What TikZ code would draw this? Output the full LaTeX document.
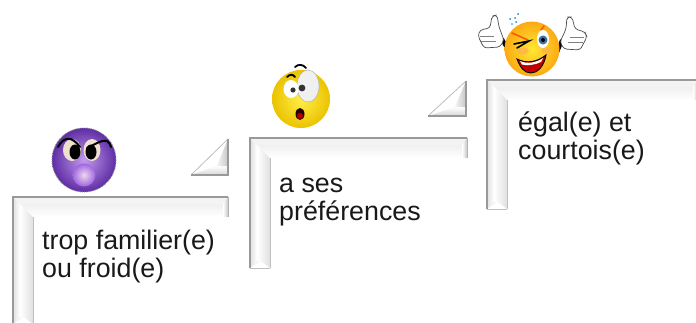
\documentclass[tikz,border=0pt]{standalone}
\usepackage{fontspec}
\setmainfont{Liberation Sans}
\usetikzlibrary{calc}
\tikzset{
  x=1pt,y=-1pt,
  label text/.style={anchor=north west,align=left,inner sep=0pt,font=\fontsize{26.8}{28}\selectfont,text=black!90},
  rim/.style={draw=black!40,line width=1.3pt},
  softrim/.style={draw=black!25,line width=1pt},
  ink/.style={draw=black,line width=1.2pt,line cap=round},
}
\definecolor{topgray}{gray}{0.88}
\definecolor{faceviolet}{RGB}{160,100,225}
\definecolor{facevioletdark}{RGB}{95,45,165}
\definecolor{faceyellow}{RGB}{255,235,40}
\definecolor{faceyellowdark}{RGB}{235,195,0}
\definecolor{winkyellow}{RGB}{255,232,50}
\definecolor{winkorange}{RGB}{252,170,20}
% left, top, right, bottom of a bevelled bracket
\newcommand{\bevelframe}[4]{%
  \pgfmathsetmacro{\il}{#1+20}\pgfmathsetmacro{\it}{#2+20}
  \pgfmathsetmacro{\pl}{#1+7}\pgfmathsetmacro{\pt}{#2+7}
  \pgfmathsetmacro{\pr}{#3-5}\pgfmathsetmacro{\pb}{#4-7}
  \pgfmathsetmacro{\mx}{#1+10}
  % top bar
  \shade[top color=topgray,bottom color=white] (#1,#2) -- (#3,#2) -- (#3,\it) -- (\il,\it) -- cycle;
  \fill[white!60!topgray] (#1,#2) -- (\pl,\pt) -- (\pr,\pt) -- (#3,#2) -- cycle;
  \shade[top color=white!50!topgray,bottom color=white] (\pl,\pt) -- (\pr,\pt) -- (\pr,\it) -- (\il,\it) -- cycle;
  \shade[left color=white,right color=black!22] (\pr,\pt) -- (#3,#2) -- (#3,\it) -- (\pr,\it) -- cycle;
  % left bar
  \shade[left color=topgray,right color=white] (#1,#2) -- (\pl,\pt) -- (\pl,\pb) -- (#1,#4) -- cycle;
  \shade[left color=white,right color=black!12] (\pl,\pt) -- (\il,\it) -- (\il,#4) -- (\mx,\pb) -- (\pl,\pb) -- cycle;
  \fill[white] (#1,#4) -- (\pl,\pb) -- (\mx,\pb) -- (\il,#4) -- cycle;
  \shade[left color=black!10,right color=black!2] (#1,#4) -- (\pl,\pb) -- (\mx,\pb) -- cycle;
  % rim
  \draw[softrim] (\il,\it) -- (\il,#4);
  \draw[rim] (#1,#4) -- (#1,#2) -- (#3,#2);
  \draw[draw=black!30,line width=1pt] (#3,#2) -- (#3,\it);
  \draw[softrim,line width=.6pt] (#1,#4) -- (\il,#4);
}
% lower-left corner x, baseline y, right x, apex y
\newcommand{\beveltri}[4]{%
  \pgfmathsetmacro{\tm}{#3-11}\pgfmathsetmacro{\tn}{#2-9}
  \shade[left color=white,right color=black!10] (#1,#2) -- (#3,#4) -- (#3,#2) -- cycle;
  \fill[white] (#1,#2) -- (#3,#4) -- (\tm,\tn) -- cycle;
  \shade[top color=white,bottom color=black!16] (#1,#2) -- (\tm,\tn) -- (#3,\tn) -- (#3,#2) -- cycle;
  \shade[left color=black!4,right color=black!22] (\tm,\tn) -- (#3,#4) -- (#3,\tn) -- cycle;
  \draw[softrim,line width=.8pt] (#1,#2) -- (#3,#4);
  \draw[rim] (#1,#2) -- (#3,#2) -- (#3,#4);
}
\begin{document}
\begin{tikzpicture}
\useasboundingbox (0,0) rectangle (696,322);
\fill[white] (0,0) rectangle (696,322);

\bevelframe{13}{197}{228}{324}
\bevelframe{250}{138}{467}{268}
\bevelframe{487}{80}{698}{209}
\beveltri{191}{175}{228}{139}
\beveltri{428}{116}{466}{81}

\node[label text] (t1) at (42,230) {trop familier(e)\\ou froid(e)};
\node[label text] (t2) at (279,177.5) {a ses\\préférences};
\node[label text] (t3) at (518,112) {égal(e) et\\courtois(e)};

% purple face
\begin{scope}[shift={(84,160)}]
  \shade[inner color=faceviolet!65!white,outer color=facevioletdark] (0,0) circle (32);
  \draw[black!45,line width=.9pt,densely dotted] (0,0) circle (32);
  \shade[inner color=violet!15,outer color=faceviolet] (0,15) circle (11.5);
  \fill[white!75!brown] (-12,-10) ellipse (9 and 11);
  \fill[white!75!brown] (8,-10) ellipse (8.5 and 11);
  \fill[black] (-9,-8) ellipse (5.5 and 7.5);
  \fill[black] (7,-8) ellipse (5.5 and 7.5);
  \draw[ink,line width=2pt] (-26,-13) .. controls (-20,-24) and (-12,-24) .. (-4,-13);
  \draw[ink,line width=2pt] (27,-13) .. controls (24,-25) and (14,-17) .. (3,-12);
\end{scope}

% yellow surprised face
\begin{scope}[shift={(301,99)}]
  \shade[inner color=faceyellow!85!white,outer color=faceyellowdark] (0,0) circle (29);
  \fill[white!94!black] (7,-13) ellipse (11 and 16);
  \draw[black!30,line width=.5pt] (7,-13) ellipse (11 and 16);
  \fill[white] (-10,-10) ellipse (7.5 and 9);
  \fill[black!80] (-8,-9) circle (2.6);
  \fill[black!80] (1,-11) circle (3.4);
  \draw[ink,line width=1.8pt] (-14,-22) .. controls (-11,-25) and (-8,-25) .. (-6,-22);
  \draw[ink,line width=1.8pt] (-6,-32) .. controls (-3,-35) and (2,-35) .. (5,-31);
  \fill[black!85!red] (-1,15) ellipse (4.5 and 6);
  \fill[red!70!black] (-1,17) ellipse (3 and 3);
\end{scope}

% winking face with thumbs
\begin{scope}[shift={(532,49)}]
  % arms
  \draw[black,line width=4pt] (-30,-10) -- (-20,8);
  \draw[black,line width=4pt] (30,-9) -- (24,6);
  % hands
  \filldraw[fill=white,draw=black!70,line width=.7pt,rounded corners=3pt] (-54,-13) -- (-52,-19) -- (-42,-21) -- (-40,-33) -- (-35,-34) -- (-33,-22) -- (-28,-9) -- (-32,-2) -- (-48,-1) -- cycle;
  \filldraw[fill=white,draw=black!70,line width=.7pt,rounded corners=3pt] (55,-12) -- (53,-17) -- (43,-20) -- (40,-32) -- (35,-32) -- (34,-20) -- (28,-7) -- (32,0) -- (48,1) -- cycle;
  \draw[black!50,line width=.5pt] (-52,-13) -- (-38,-13) (-51,-8) -- (-36,-8);
  \draw[black!50,line width=.5pt] (52,-12) -- (38,-12) (51,-7) -- (36,-7);
  \shade[inner color=winkyellow,outer color=winkorange] (0,0) circle (27.5);
  \fill[orange!65!white,opacity=.6] (-9,2) ellipse (6 and 3.5);
  \fill[orange!65!white,opacity=.6] (14,1) ellipse (5 and 3.5);
  \draw[orange!70!red,line width=1.6pt,line cap=round] (-20,-16) -- (-4,-9);
  \draw[orange!70!red,line width=1.6pt,line cap=round] (9,-19) -- (12,-23);
  \draw[ink,line width=1.6pt] (-18,-5) -- (-3,-8) -- (-15,-1);
  \fill[white] (11,-10) ellipse (6 and 9);
  \fill[cyan!60!blue!70!black] (11,-9) circle (4.5);
  \fill[black] (11,-9) circle (2);
  \filldraw[fill=red!75!black,draw=black,line width=.9pt] (-15,10) .. controls (-5,15) and (5,13) .. (14,6) .. controls (12,18) and (5,24) .. (-1,24) .. controls (-8,24) and (-12,18) .. (-15,10) -- cycle;
  \fill[white] (-12,12) .. controls (-5,15.5) and (5,13.5) .. (11,9) -- (9,13) .. controls (3,16) and (-5,17) .. (-10,15.5) -- cycle;
  \fill[cyan!70!blue] (-22,-30) circle (1) (-17,-31) circle (1) (-14,-35) circle (1) (-16,-27) circle (1) (-20,-25) circle (.9);
\end{scope}
\end{tikzpicture}
\end{document}
